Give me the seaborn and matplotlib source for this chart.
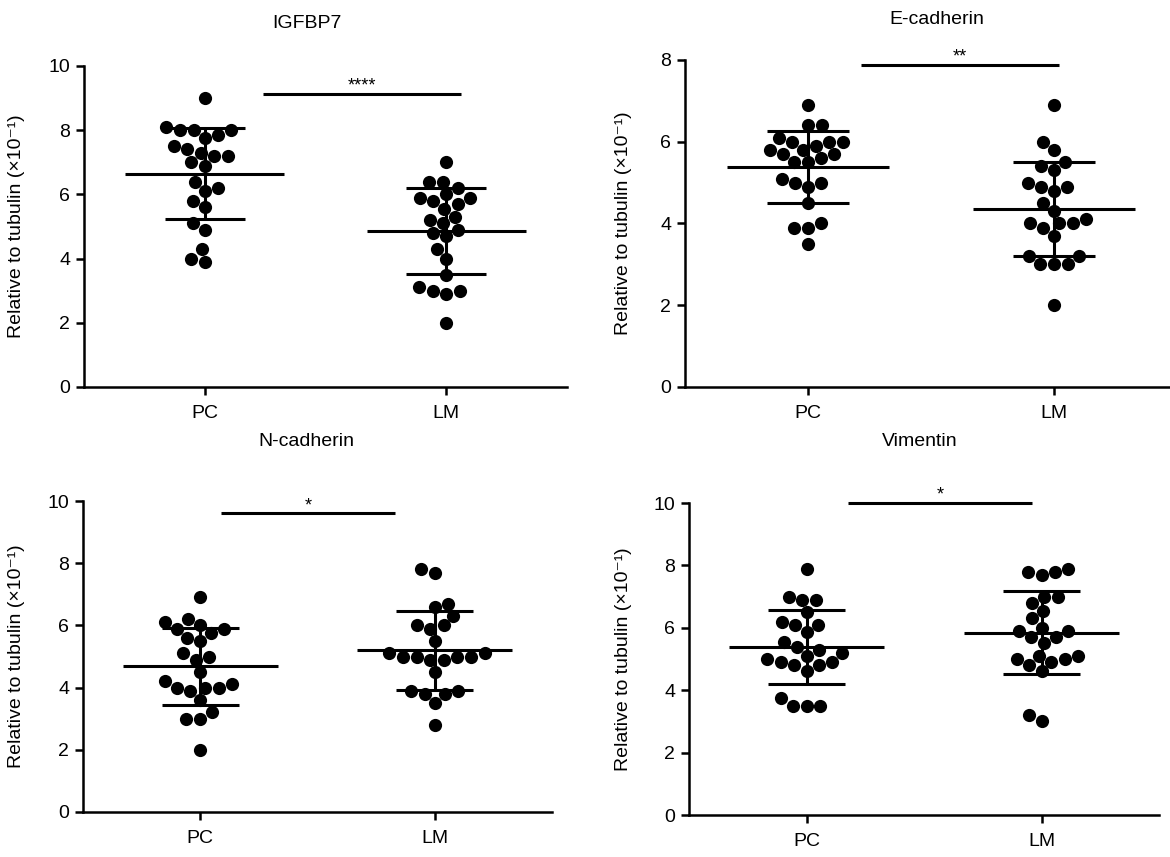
import numpy as np
import pandas as pd
import matplotlib
matplotlib.use("Agg")
import matplotlib.pyplot as plt
import seaborn as sns

# values (relative to tubulin, x10^-1)
groups = ["PC", "LM"]
titles = ["IGFBP7", "E-cadherin", "N-cadherin", "Vimentin"]

igfbp7_pc = [9.0, 8.1, 8.0, 7.85, 7.75, 8.0, 8.0, 7.5, 7.3, 7.2, 7.2, 7.0, 7.4, 6.9,
             6.4, 6.1, 6.2, 5.8, 5.6, 5.1, 4.9, 4.3, 3.9, 4.0]
igfbp7_lm = [7.0, 6.4, 6.4, 6.2, 5.9, 6.0, 5.8, 5.9, 5.7, 5.55, 5.3, 5.1, 5.2, 4.8,
             4.7, 4.9, 4.3, 4.0, 3.5, 3.1, 3.0, 2.9, 3.0, 2.0]
ecad_pc = [6.9, 6.4, 6.4, 6.1, 6.0, 6.0, 6.0, 5.8, 5.9, 5.8, 5.7, 5.6, 5.5, 5.5,
           5.7, 5.0, 5.0, 4.9, 5.1, 4.5, 3.9, 4.0, 3.9, 3.5]
ecad_lm = [6.9, 6.0, 5.8, 5.5, 5.4, 5.3, 4.9, 4.8, 4.9, 5.0, 4.5, 4.3, 4.0, 4.0,
           3.9, 4.0, 4.1, 3.7, 3.2, 3.2, 3.0, 3.0, 3.0, 2.0]
ncad_pc = [6.9, 6.2, 6.0, 5.9, 5.75, 5.9, 6.1, 5.6, 5.5, 5.0, 4.9, 5.1, 4.5, 4.1,
           4.0, 3.9, 4.0, 4.0, 4.2, 3.6, 3.2, 3.0, 3.0, 2.0]
ncad_lm = [7.8, 7.7, 6.7, 6.6, 6.3, 6.0, 5.9, 6.0, 5.5, 5.1, 5.0, 5.0, 4.9, 4.9,
           5.0, 5.0, 5.1, 4.5, 3.9, 3.8, 3.8, 3.9, 3.5, 2.8]
vim_pc = [7.9, 7.0, 6.9, 6.9, 6.5, 6.1, 6.1, 5.85, 6.2, 5.55, 5.3, 5.4, 5.2, 5.0,
          4.9, 4.8, 4.6, 4.8, 4.9, 5.1, 3.5, 3.5, 3.5, 3.75]
vim_lm = [7.9, 7.8, 7.7, 7.8, 7.0, 7.0, 6.8, 6.55, 6.3, 5.9, 5.7, 5.5, 5.7, 5.9,
          6.0, 5.1, 5.0, 4.8, 4.6, 4.9, 5.0, 5.1, 3.2, 3.0]

pc_values = [igfbp7_pc, ecad_pc, ncad_pc, vim_pc]
lm_values = [igfbp7_lm, ecad_lm, ncad_lm, vim_lm]
y_max = [10, 8, 10, 10]

# significance brackets
sig_labels = ["****", "**", "*", "*"]
sig_heights = [9.13, 7.87, 9.6, 10.0]
sig_from = [0.24, 0.215, 0.09, 0.175]
sig_to = [1.06, 1.02, 0.83, 0.96]

sns.set_style("ticks")
plt.rcParams["font.family"] = ["Liberation Sans", "DejaVu Sans"]
plt.rcParams["font.size"] = 14
for key in ["text.color", "axes.labelcolor", "xtick.color", "ytick.color", "axes.edgecolor"]:
    plt.rcParams[key] = "black"

W, H = 1170, 857
fig = plt.figure(figsize=(W / 100, H / 100), dpi=100)

# axes boxes in pixels: left, right, top, bottom
boxes = [(84, 567, 66, 387), (685, 1177, 60, 387),
         (83, 552, 501, 812), (689, 1159, 503, 815)]
title_pos = [(307, 24), (937, 20), (306, 441), (920, 441)]
ylab_px = [59, 53, 58, 57]

lw = 2.2
for k in range(4):
    l, r, t, b = boxes[k]
    ax = fig.add_axes([l / W, (H - b) / H, (r - l) / W, (b - t) / H])

    df = pd.DataFrame({
        "group": ["PC"] * len(pc_values[k]) + ["LM"] * len(lm_values[k]),
        "value": pc_values[k] + lm_values[k],
    })

    sns.swarmplot(data=df, x="group", y="value", order=groups, color="black",
                  size=9.5, linewidth=0, ax=ax, zorder=2)

    # mean +/- SD
    stats = df.groupby("group")["value"].agg(["mean", "std"]).reindex(groups)
    for i, g in enumerate(groups):
        m, s = stats.loc[g, "mean"], stats.loc[g, "std"]
        ax.hlines(m, i - 0.33, i + 0.33, color="black", lw=lw, zorder=3)
        ax.vlines(i, m - s, m + s, color="black", lw=lw, zorder=3)
        ax.hlines([m - s, m + s], i - 0.165, i + 0.165, color="black", lw=lw, zorder=3)

    # significance bar
    ax.plot([sig_from[k], sig_to[k]], [sig_heights[k]] * 2, color="black", lw=lw,
            clip_on=False, solid_capstyle="butt")
    ax.text((sig_from[k] + sig_to[k]) / 2, sig_heights[k] + 0.1, sig_labels[k],
            ha="center", va="baseline", fontsize=13)

    ax.set_xlim(-0.5, 1.5)
    ax.set_ylim(0, y_max[k])
    ax.set_yticks(np.arange(0, y_max[k] + 1, 2))
    ax.set_xlabel("")
    ax.set_ylabel("Relative to tubulin (×10⁻¹)", fontsize=14)
    ax.yaxis.set_label_coords(-ylab_px[k] / (r - l), 0.5)
    sns.despine(ax=ax)
    for sp in ["left", "bottom"]:
        ax.spines[sp].set_linewidth(1.8)
    ax.tick_params(axis="both", width=1.8, length=6, labelsize=14)
    ax.tick_params(axis="x", pad=7)
    ax.tick_params(axis="y", pad=4)

    fig.text(title_pos[k][0] / W, 1 - title_pos[k][1] / H, titles[k],
             ha="center", va="center", fontsize=14)

fig.savefig("out.png", dpi=100)
